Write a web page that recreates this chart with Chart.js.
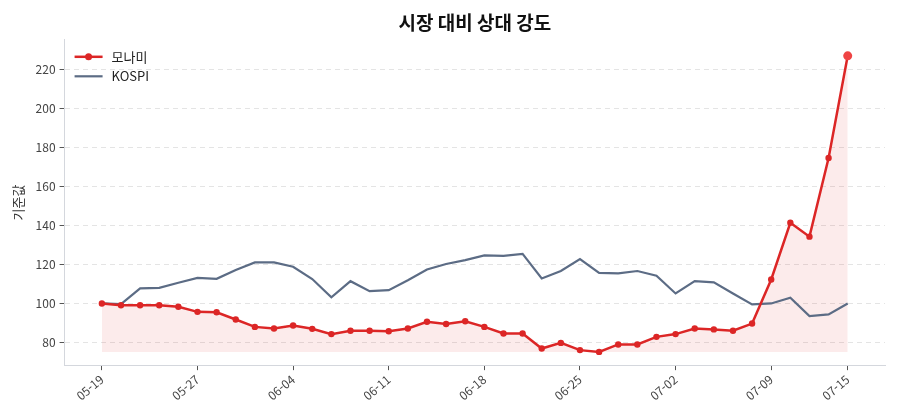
<!DOCTYPE html>
<html lang="ko">
<head>
<meta charset="utf-8">
<title>시장 대비 상대 강도</title>
<script src="https://cdn.jsdelivr.net/npm/chart.js@4.4.1/dist/chart.umd.min.js"></script>
<style>
  html, body { margin: 0; padding: 0; background: #fff; }
  #wrap { width: 900px; height: 420px; position: relative; }
</style>
</head>
<body>
<div id="wrap"><canvas id="chart"></canvas></div>
<script>
// data
const dates = [
  '05-19', '05-20', '05-21', '05-22', '05-23', '05-27', '05-28', '05-29', '05-30', '06-02',
  '06-04', '06-05', '06-06', '06-09', '06-10', '06-11', '06-12', '06-13', '06-16', '06-17',
  '06-18', '06-19', '06-20', '06-23', '06-24', '06-25', '06-26', '06-27', '06-30', '07-01',
  '07-02', '07-03', '07-04', '07-07', '07-08', '07-09', '07-10', '07-11', '07-14', '07-15'
];
const monami = [
  100, 99.1, 99.1, 99.1, 98.3, 95.7, 95.5, 91.8, 88.0, 87.2,
  88.7, 87.0, 84.3, 86.0, 86.0, 85.8, 87.2, 90.6, 89.5, 90.9,
  88.0, 84.6, 84.6, 76.9, 79.8, 76.1, 75.2, 79.0, 79.0, 82.9,
  84.3, 87.2, 86.7, 86.0, 89.7, 112.3, 141.3, 134.2, 174.5, 226.8
];
const kospi = [
  100, 99.7, 107.7, 108.0, 110.6, 113.1, 112.6, 117.1, 121.0, 121.0,
  118.8, 112.5, 103.1, 111.4, 106.3, 106.8, 111.9, 117.4, 120.2, 122.2,
  124.6, 124.4, 125.4, 112.8, 116.6, 122.7, 115.7, 115.4, 116.6, 114.2,
  105.1, 111.4, 110.8, 105.1, 99.5, 100, 102.9, 93.5, 94.4, 100
];
const xTickIdx = [0, 5, 10, 15, 20, 25, 30, 35, 39];
const yTicks = [80, 100, 120, 140, 160, 180, 200, 220];

const FONT = "'Noto Sans CJK KR', 'Noto Sans', sans-serif";
const RED = '#dc2626';
const GRAY = '#5c6c85';
const last = monami.length - 1;

// legend drawn inside the plot, upper left
const insideLegend = {
  id: 'insideLegend',
  afterDraw(chart) {
    const { ctx, chartArea } = chart;
    const x0 = chartArea.left + 10;
    let y = chartArea.top + 17;
    ctx.save();
    chart.data.datasets.forEach(ds => {
      ctx.strokeStyle = ds.borderColor;
      ctx.lineWidth = ds.borderWidth;
      ctx.beginPath();
      ctx.moveTo(x0, y);
      ctx.lineTo(x0 + 28, y);
      ctx.stroke();
      if (ds.legendMarker) {
        ctx.fillStyle = ds.borderColor;
        ctx.beginPath();
        ctx.arc(x0 + 14, y, 3.5, 0, Math.PI * 2);
        ctx.fill();
      }
      ctx.fillStyle = '#222';
      ctx.font = '13px ' + FONT;
      ctx.textBaseline = 'middle';
      ctx.fillText(ds.label, x0 + 37, y);
      y += 19.5;
    });
    ctx.restore();
  }
};

new Chart(document.getElementById('chart'), {
  type: 'line',
  data: {
    datasets: [
      {
        label: '모나미',
        data: monami.map((v, i) => ({ x: i, y: v })),
        borderColor: RED,
        borderWidth: 2.5,
        pointRadius: c => c.dataIndex === last ? 4.5 : 3.2,
        pointBackgroundColor: c => c.dataIndex === last ? '#ef4444' : RED,
        pointBorderWidth: 0,
        fill: { value: Math.min(...monami) },
        backgroundColor: 'rgba(220, 38, 38, 0.09)',
        legendMarker: true
      },
      {
        label: 'KOSPI',
        data: kospi.map((v, i) => ({ x: i, y: v })),
        borderColor: GRAY,
        borderWidth: 2.2,
        pointRadius: 0,
        fill: false
      }
    ]
  },
  options: {
    responsive: true,
    maintainAspectRatio: false,
    animation: false,
    layout: { padding: { left: 6, right: 15, bottom: 15, top: 0 } },
    plugins: {
      legend: { display: false },
      tooltip: { enabled: false },
      filler: { drawTime: 'beforeDatasetsDraw' },
      title: {
        display: true,
        fullSize: false,
        text: '시장 대비 상대 강도',
        color: '#111',
        font: { family: FONT, size: 19, weight: 'bold' },
        padding: { top: 11, bottom: 6 }
      }
    },
    scales: {
      x: {
        type: 'linear',
        min: -1.95,
        max: 40.95,
        afterBuildTicks: axis => { axis.ticks = xTickIdx.map(v => ({ value: v })); },
        ticks: {
          autoSkip: false,
          maxRotation: 40,
          minRotation: 40,
          padding: 2,
          color: '#444',
          font: { family: FONT, size: 12 },
          callback: v => dates[v]
        },
        grid: { drawOnChartArea: false, tickLength: 5, tickColor: '#555' },
        border: { color: '#d4d7dd', width: 1 }
      },
      y: {
        min: 68.4,
        max: 235,
        afterBuildTicks: axis => { axis.ticks = yTicks.map(v => ({ value: v })); },
        ticks: {
          padding: 4,
          color: '#444',
          font: { family: FONT, size: 12 }
        },
        grid: { color: '#e4e4e4', tickLength: 5, tickColor: '#555' },
        border: { color: '#d4d7dd', width: 1, dash: [5, 4] },
        title: {
          display: true,
          text: '기준값',
          color: '#333',
          font: { family: FONT, size: 13 },
          padding: { bottom: 6 }
        }
      }
    }
  },
  plugins: [insideLegend]
});
</script>
</body>
</html>
